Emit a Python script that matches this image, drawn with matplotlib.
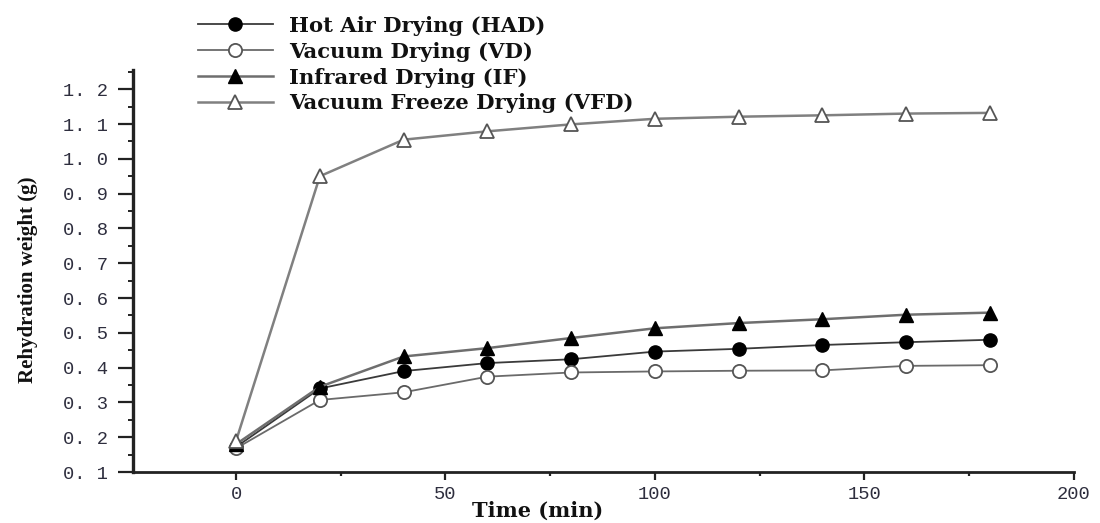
import matplotlib
matplotlib.use("Agg")
import matplotlib.pyplot as plt
from matplotlib.ticker import MultipleLocator, FuncFormatter

time_min = [0, 20, 40, 60, 80, 100, 120, 140, 160, 180]
had = [0.172, 0.340, 0.390, 0.413, 0.424, 0.446, 0.454, 0.465, 0.473, 0.480]
vd = [0.168, 0.307, 0.329, 0.374, 0.386, 0.389, 0.391, 0.392, 0.405, 0.407]
ir = [0.180, 0.345, 0.432, 0.456, 0.485, 0.513, 0.528, 0.539, 0.552, 0.558]
vfd = [0.190, 0.950, 1.055, 1.079, 1.099, 1.115, 1.121, 1.125, 1.130, 1.132]
labels = ["Hot Air Drying (HAD)", "Vacuum Drying (VD)", "Infrared Drying (IF)",
          "Vacuum Freeze Drying (VFD)"]

fig = plt.figure(figsize=(11, 5.23), dpi=100)
ax = fig.add_axes([0.121, 0.0975, 0.855, 0.7685])

ax.plot(time_min, had, color="#3a3a3a", lw=1.3, marker="o", ms=9.5,
        mfc="black", mec="black", label=labels[0], zorder=3)
ax.plot(time_min, vd, color="#6a6a6a", lw=1.3, marker="o", ms=9.5,
        mfc="white", mec="#555555", mew=1.3, label=labels[1], zorder=3)
ax.plot(time_min, ir, color="#6e6e6e", lw=1.8, marker="^", ms=9.5,
        mfc="black", mec="black", label=labels[2], zorder=3)
ax.plot(time_min, vfd, color="#808080", lw=1.8, marker="^", ms=10.5,
        mfc="white", mec="#555555", mew=1.3, label=labels[3], zorder=3)

ax.set_xlim(-24.6, 200)
ax.set_ylim(0.1, 1.255)
ax.spines["top"].set_visible(False)
ax.spines["right"].set_visible(False)
ax.spines["left"].set_linewidth(2.4)
ax.spines["bottom"].set_linewidth(2.0)
ax.spines["left"].set_color("#222222")
ax.spines["bottom"].set_color("#222222")

ax.xaxis.set_major_locator(MultipleLocator(50))
ax.xaxis.set_minor_locator(MultipleLocator(25))
ax.yaxis.set_major_locator(MultipleLocator(0.1))
ax.yaxis.set_minor_locator(MultipleLocator(0.05))
ax.yaxis.set_major_formatter(FuncFormatter(lambda v, p: f"{v:.1f}".replace(".", ". ")))

ax.tick_params(axis="y", which="major", direction="out", length=11, width=1.6,
               color="#222222", pad=7, labelsize=13.5, labelcolor="#2e2e3e")
ax.tick_params(axis="y", which="minor", direction="out", length=3.5, width=1.4,
               color="#222222")
ax.tick_params(axis="x", which="major", direction="out", length=6, width=1.6,
               color="#222222", pad=4, labelsize=13.5, labelcolor="#2e2e3e")
ax.tick_params(axis="x", which="minor", direction="out", length=3, width=1.6,
               color="#222222")
for t in ax.get_yticklabels() + ax.get_xticklabels():
    t.set_fontfamily("Liberation Mono")

ax.set_ylabel("Rehydration weight (g)", fontfamily="Liberation Serif",
              fontweight="bold", fontsize=15, color="#111111")
ax.yaxis.set_label_coords(-0.101, 0.478)
ax.set_xlabel("Time (min)", fontfamily="DejaVu Serif", fontweight="bold",
              fontsize=15, color="#111111")
ax.xaxis.set_label_coords(0.43, -0.072)

leg = fig.legend(loc="upper left", bbox_to_anchor=(0.18, 0.970), frameon=False,
                 handlelength=3.55, handletextpad=0.75, labelspacing=0.28,
                 borderpad=0, borderaxespad=0,
                 prop={"family": "DejaVu Serif", "weight": "bold", "size": 15.2})
for t in leg.get_texts():
    t.set_color("#111111")

fig.savefig("out.png", dpi=100)
